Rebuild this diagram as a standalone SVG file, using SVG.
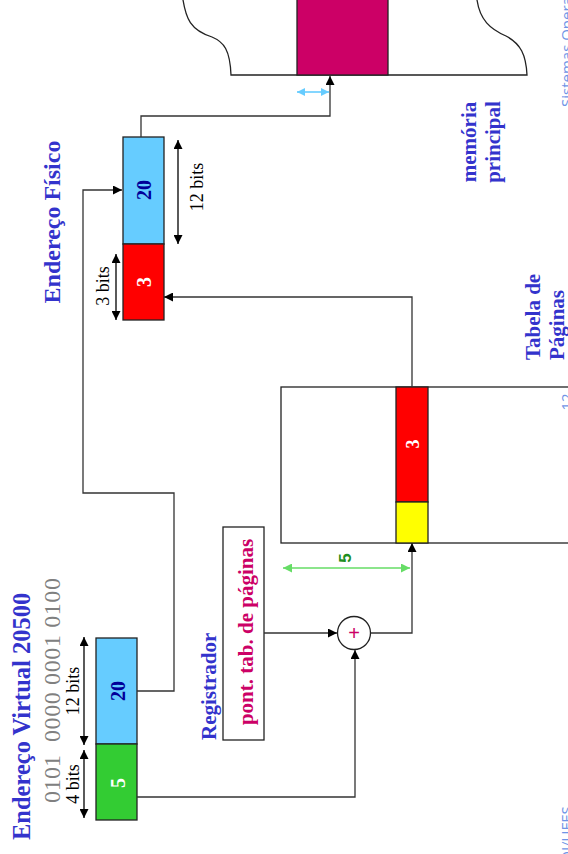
<svg xmlns="http://www.w3.org/2000/svg" width="568" height="854" viewBox="0 0 568 854">
<defs>
<marker id="ah" viewBox="0 0 10 10" refX="10" refY="5" markerWidth="9" markerHeight="9" markerUnits="userSpaceOnUse" orient="auto-start-reverse"><path d="M0,0 L10,5 L0,10 z" fill="#000"/></marker>
<marker id="ahg" viewBox="0 0 10 10" refX="10" refY="5" markerWidth="9" markerHeight="9" markerUnits="userSpaceOnUse" orient="auto-start-reverse"><path d="M0,0 L10,5 L0,10 z" fill="#66dd66"/></marker>
<marker id="ahb" viewBox="0 0 10 10" refX="10" refY="5" markerWidth="8" markerHeight="8" markerUnits="userSpaceOnUse" orient="auto-start-reverse"><path d="M0,0 L10,5 L0,10 z" fill="#66ccff"/></marker>
</defs>
<style>
.t{font-family:"Liberation Serif","Times New Roman",serif}
.b{font-weight:bold}
.blue{fill:#3333cc}
.mag{fill:#cc0066}
.box{stroke:#222;stroke-width:1.3}
.ln{fill:none;stroke:#333;stroke-width:1.3}
.dim{fill:none;stroke:#000;stroke-width:1.3}
.foot{font-family:"Open Sans","DejaVu Sans",sans-serif;font-size:15px;fill:#6f94e6}
</style>
<rect width="568" height="854" fill="#fff"/>

<g id="memoria">
<path d="M183,0 C186,18 190,30 212,37 C224,42 230,50 231,75 L527,75 C526,55 521,44 506,36 C490,29 480,20 477,0" fill="none" stroke="#222" stroke-width="1.3"/>
<rect x="297" y="-2" width="91" height="77" fill="#cc0066" class="box"/>
<text class="t b blue" font-size="21" text-anchor="middle" transform="translate(476,142) rotate(-90)">memória</text>
<text class="t b blue" font-size="21" text-anchor="middle" transform="translate(500,142) rotate(-90)">principal</text>
</g>

<g id="endereco-fisico">
<rect x="123" y="137" width="41" height="107" fill="#66ccff" class="box"/>
<rect x="123" y="244" width="41" height="76" fill="#ff0000" class="box"/>
<text class="t b" font-size="20" fill="#000099" text-anchor="middle" transform="translate(151,190) rotate(-90)">20</text>
<text class="t b" font-size="20" fill="#fff" text-anchor="middle" transform="translate(151,282) rotate(-90)">3</text>
<text class="t b blue" font-size="24" text-anchor="middle" transform="translate(60,222) rotate(-90)">Endereço Físico</text>
<line x1="178" y1="140" x2="178" y2="244" class="dim" marker-start="url(#ah)" marker-end="url(#ah)"/>
<text class="t" font-size="18" text-anchor="middle" transform="translate(203,187) rotate(-90)">12 bits</text>
<line x1="116" y1="254" x2="116" y2="320" class="dim" marker-start="url(#ah)" marker-end="url(#ah)"/>
<text class="t" font-size="18" text-anchor="middle" transform="translate(109,286) rotate(-90)">3 bits</text>
</g>

<g id="tabela-paginas">
<rect x="281" y="387" width="290" height="156" fill="#fff" class="box"/>
<rect x="396" y="387" width="32" height="115" fill="#ff0000" class="box"/>
<rect x="396" y="502" width="32" height="41" fill="#ffff00" class="box"/>
<text class="t b" font-size="18" fill="#fff" text-anchor="middle" transform="translate(419,444) rotate(-90)">3</text>
<text class="t b blue" font-size="21" transform="translate(540,360) rotate(-90)">Tabela de</text>
<text class="t b blue" font-size="21" transform="translate(564,360) rotate(-90)">Páginas</text>
</g>

<g id="registrador">
<rect x="223" y="527" width="41" height="213" fill="#fff" class="box"/>
<text class="t b mag" font-size="21" text-anchor="middle" transform="translate(253,632) rotate(-90)">pont. tab. de páginas</text>
<text class="t b blue" font-size="21" transform="translate(216,740) rotate(-90)">Registrador</text>
</g>

<g id="somador">
<circle cx="354" cy="633" r="16.5" fill="#fff" stroke="#222" stroke-width="1.3"/>
<text font-family="Liberation Sans,Arial,sans-serif" font-size="20" class="mag" text-anchor="middle" x="354" y="640">+</text>
</g>

<g id="endereco-virtual">
<rect x="96" y="638" width="41" height="106" fill="#66ccff" class="box"/>
<rect x="96" y="744" width="41" height="76" fill="#33cc33" class="box"/>
<text class="t b" font-size="20" fill="#000099" text-anchor="middle" transform="translate(125,691) rotate(-90)">20</text>
<text class="t b" font-size="20" fill="#fff" text-anchor="middle" transform="translate(125,783) rotate(-90)">5</text>
<text class="t b blue" font-size="24.5" transform="translate(30,840) rotate(-90)">Endereço Virtual 20500</text>
<text class="t" font-size="24" fill="#808080" transform="translate(60,803) rotate(-90)">0101</text>
<text class="t" font-size="24" fill="#808080" textLength="164" transform="translate(60,742) rotate(-90)">0000 0001 0100</text>
<line x1="84" y1="637" x2="84" y2="745" class="dim" marker-start="url(#ah)" marker-end="url(#ah)"/>
<text class="t" font-size="18" text-anchor="middle" transform="translate(79,691) rotate(-90)">12 bits</text>
<line x1="84" y1="750" x2="84" y2="818" class="dim" marker-start="url(#ah)" marker-end="url(#ah)"/>
<text class="t" font-size="18" text-anchor="middle" transform="translate(79,784) rotate(-90)">4 bits</text>
</g>

<g id="conectores">
<polyline class="ln" points="137,691 174,691 174,493 83,493 83,190 122,190" marker-end="url(#ah)"/>
<polyline class="ln" points="141,137 141,116 330,116 330,76" marker-end="url(#ah)"/>
<polyline class="ln" points="412,387 412,297 164,297" marker-end="url(#ah)"/>
<polyline class="ln" points="137,797 355,797 355,650" marker-end="url(#ah)"/>
<line class="ln" x1="264" y1="633" x2="337" y2="633" marker-end="url(#ah)"/>
<polyline class="ln" points="371,633 412,633 412,543" marker-end="url(#ah)"/>
<line x1="283" y1="568" x2="410" y2="568" stroke="#66dd66" stroke-width="1.6" marker-start="url(#ahg)" marker-end="url(#ahg)"/>
<text font-family="Liberation Sans,Arial,sans-serif" font-weight="bold" font-size="17" fill="#1f8f1f" text-anchor="middle" transform="translate(351,558) rotate(-90)">5</text>
<line x1="297" y1="92" x2="329" y2="92" stroke="#66ccff" stroke-width="1.6" marker-start="url(#ahb)" marker-end="url(#ahb)"/>
</g>

<g id="rodape">
<text class="foot" transform="translate(572,107) rotate(-90)">Sistemas Operacionais</text>
<text class="foot" text-anchor="middle" transform="translate(572,402) rotate(-90)">12</text>
<text class="foot" transform="translate(572,862) rotate(-90)">DI/UFES</text>
</g>
</svg>
